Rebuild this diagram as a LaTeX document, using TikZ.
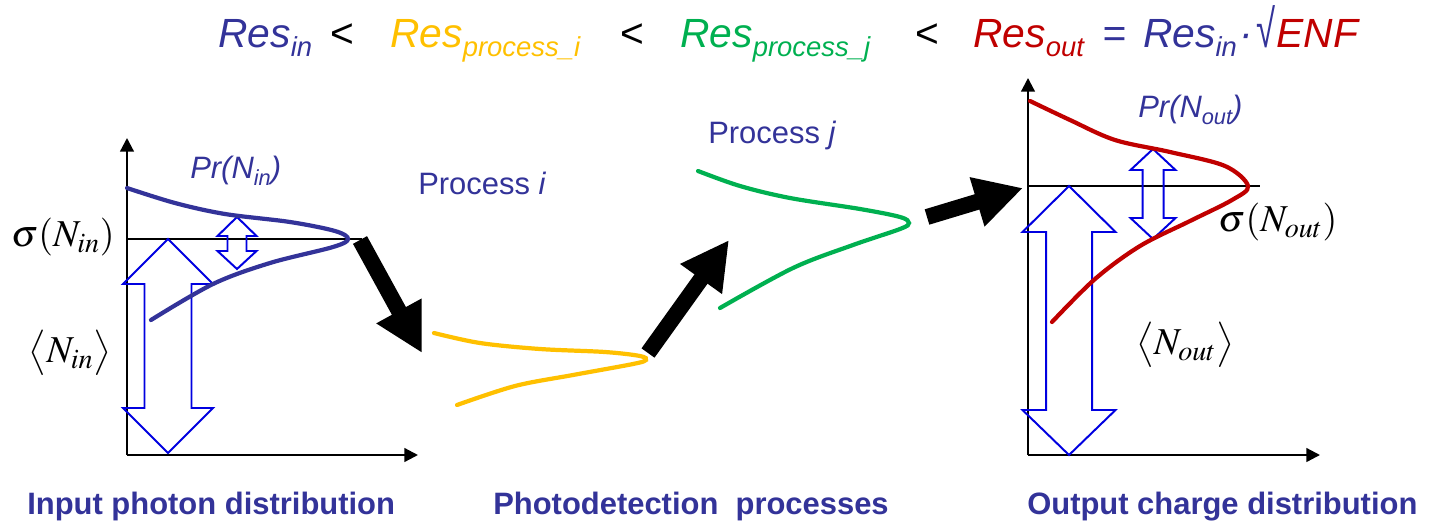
\documentclass[tikz,border=0pt]{standalone}
\usepackage{mathptmx}
\usepackage{fontspec}
\usetikzlibrary{arrows.meta}

\newfontfamily\arialfont{Liberation Sans}

\definecolor{resblue}{HTML}{333399}
\definecolor{resyellow}{HTML}{FFC000}
\definecolor{resgreen}{HTML}{00B050}
\definecolor{resred}{HTML}{C00000}
\definecolor{spreadblue}{HTML}{0000E0}

\newcommand\rsub[1]{\raisebox{-7pt}{\fontsize{19.5}{20}\selectfont #1}}
\newcommand\psub[1]{\raisebox{-5pt}{\fontsize{15.5}{16}\selectfont #1}}

\tikzset{
    formula/.style={font=\arialfont\itshape\fontsize{29}{32}\selectfont, inner sep=0pt, anchor=base west},
    lessthan/.style={font=\arialfont\fontsize{29}{32}\selectfont, inner sep=0pt, anchor=base west},
    caption/.style={font=\arialfont\bfseries\fontsize{22}{24}\selectfont, text=resblue, inner sep=0pt, anchor=base west},
    proclabel/.style={font=\arialfont\fontsize{22}{24}\selectfont, text=resblue, inner sep=0pt, anchor=base west},
    mathlabel/.style={font=\fontsize{27}{30}\selectfont, inner sep=0pt},
    axis/.style={line width=1.6pt, -{Triangle[length=0.34cm,width=0.34cm]}},
    meanline/.style={line width=0.8pt},
    twoway/.style={draw=spreadblue, line width=1.4pt},
    distcurve/.style={line width=3pt, line cap=round},
    flow/.style={line width=0.4cm, -{Triangle[length=1.2cm,width=1.2cm]}}
}

% two-headed hollow arrow: x, top tip, upper head base, lower head base, bottom tip, head half width, shaft half width
\newcommand\hollowarrow[7]{%
    \draw[twoway] (#1,#2) -- ({#1+#6},#3) -- ({#1+#7},#3) -- ({#1+#7},#4) -- ({#1+#6},#4) -- (#1,#5)
        -- ({#1-#6},#4) -- ({#1-#7},#4) -- ({#1-#7},#3) -- ({#1-#6},#3) -- cycle;}

\begin{document}
\begin{tikzpicture}[x=0.025cm,y=-0.025cm]
    \useasboundingbox (0,0) rectangle (1431,520);

    \node[formula, text=resblue] (resin) at (218,47) {Res\rsub{in}};
    \node[lessthan] (lt1) at (330,47) {<};
    \node[formula, text=resyellow] (resi) at (390,47) {Res\rsub{process\_i}};
    \node[lessthan] (lt2) at (620,47) {<};
    \node[formula, text=resgreen] (resj) at (680,47) {Res\rsub{process\_j}};
    \node[lessthan] (lt3) at (915,47) {<};
    \node[formula, text=resred] (resout) at (973,47)
        {Res\rsub{out}\hspace{5pt} \textcolor{resblue}{=\hspace{4pt} Res\rsub{in}\hspace{2pt}·\hspace{2pt}\scalebox{0.85}[1.3]{√}}\hspace{1pt}ENF};

    % input photons
    \coordinate (inO) at (127,455);
    \draw[axis] (inO) -- (127,138);
    \draw[axis] (inO) -- (418,455);
    \draw[meanline] (127,239) -- (362,239);
    \hollowarrow{168}{239}{284}{408}{453}{45}{23.5}
    \hollowarrow{237}{217}{236}{251}{269}{19.5}{9.5}
    \draw[distcurve, resblue] plot[smooth, tension=0.55] coordinates {
        (127,188) (175,203) (225,214) (290,222) (335,231) (348,239)
        (333,247) (270,263) (213,284) (151,320)};

    \node[mathlabel] (sigin) at (63,237) {$\sigma(N_{in})$};
    \node[mathlabel] (meanin) at (70,353) {$\bigl\langle N_{in}\bigr\rangle$};
    \node[proclabel] (prin) at (190,178) {\itshape Pr(N\psub{in})};

    % photodetection steps
    \draw[distcurve, resyellow] plot[smooth, tension=0.55] coordinates {
        (434,333) (480,343) (540,349) (605,352) (640,356) (646,360)
        (633,364) (573,375) (515,386) (457,405)};
    \draw[distcurve, resgreen] plot[smooth, tension=0.55] coordinates {
        (698,171) (740,186) (790,198) (860,209) (900,217) (909,223)
        (900,229) (853,245) (793,268) (720,308)};

    \node[proclabel] (proci) at (418,194) {Process \textit{i}};
    \node[proclabel] (procj) at (708,143) {Process \textit{j}};

    \coordinate (inpeak) at (360,240);
    \coordinate (ienter) at (422,353);
    \coordinate (ipeak) at (648,353);
    \coordinate (jenter) at (729,240);
    \coordinate (jpeak) at (927,217);
    \coordinate (outenter) at (1023,188);
    \draw[flow] (inpeak) -- (ienter);
    \draw[flow] (ipeak) -- (jenter);
    \draw[flow] (jpeak) -- (outenter);

    % output charge
    \coordinate (outO) at (1028,455);
    \draw[axis] (outO) -- (1028,78);
    \draw[axis] (outO) -- (1320,455);
    \draw[meanline] (1028,186) -- (1260,186);
    \hollowarrow{1069}{186}{232}{410}{455}{46.5}{23}
    \hollowarrow{1153}{149}{170}{218}{239}{22.5}{10.5}
    \draw[distcurve, resred] plot[smooth, tension=0.55] coordinates {
        (1030,101) (1070,120) (1115,140) (1170,152) (1225,166) (1248,186)
        (1232,200) (1190,221) (1140,246) (1095,279) (1052,322)};

    \node[mathlabel] (sigout) at (1278,222) {$\sigma(N_{out})$};
    \node[mathlabel] (meanout) at (1185,345) {$\bigl\langle N_{out}\bigr\rangle$};
    \node[proclabel] (prout) at (1138,117) {\itshape Pr(N\psub{out})};

    \node[caption] (capin) at (27,514) {Input photon distribution};
    \node[caption] (capproc) at (493,514) {Photodetection\ \ processes};
    \node[caption] (capout) at (1027,514) {Output charge distribution};
\end{tikzpicture}
\end{document}
